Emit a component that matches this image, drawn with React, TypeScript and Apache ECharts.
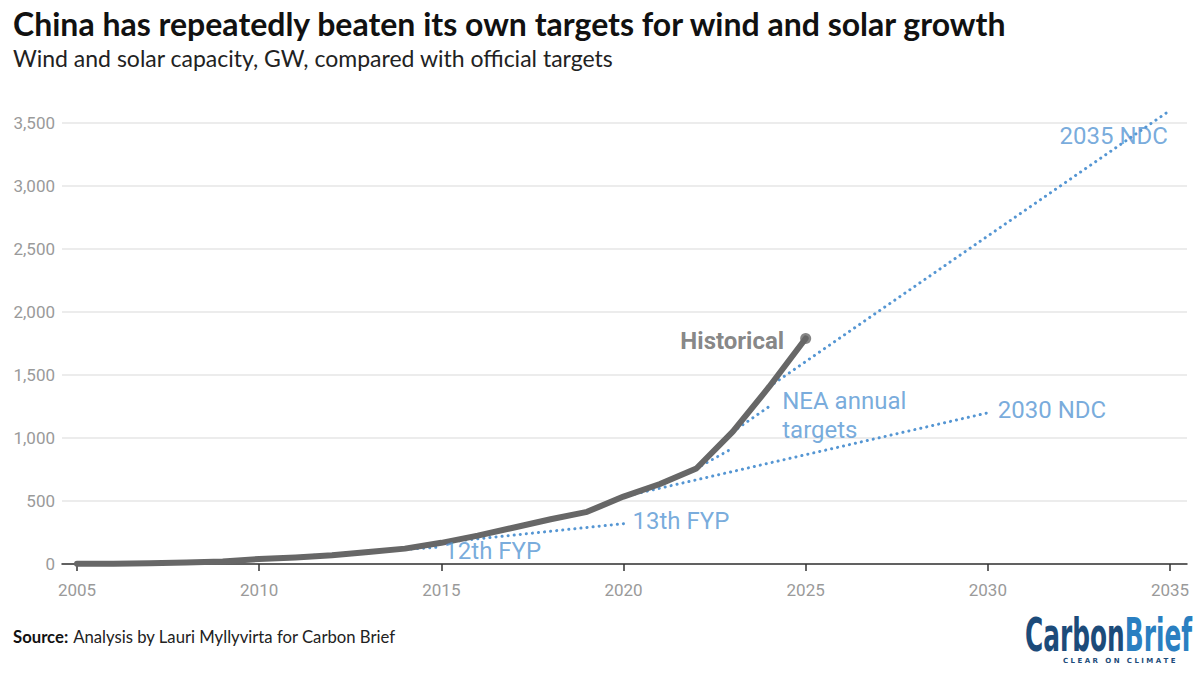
import React, { useEffect, useRef } from "react";
import * as echarts from "echarts";

const years = [2005, 2006, 2007, 2008, 2009, 2010, 2011, 2012, 2013, 2014, 2015, 2016, 2017, 2018, 2019, 2020, 2021, 2022, 2023, 2024, 2025];
const historical = [1.3, 2.7, 6, 12, 20, 40, 52, 70, 95, 122, 168, 225, 290, 355, 414, 535, 635, 758, 1050, 1407, 1790];

const fyp12 = [[2010, 40], [2015, 135]];
const fyp13 = [[2015, 170], [2020, 320]];
const ndc2030 = [[2020, 535], [2030, 1200]];
const nea2023 = [[2022, 758], [2023, 920]];
const nea2024 = [[2023, 1050], [2024, 1250]];
const ndc2035 = [[2024, 1407], [2035, 3600]];

const yTicks = { min: 0, max: 3500, interval: 500 };
const xTicks = { min: 2005, max: 2035, interval: 5 };

const BLUE = "#5596d3";
const GRAY = "#676767";
const LABEL_FONT = "Roboto, 'Noto Sans', sans-serif";
const TEXT_FONT = "Lato, 'Noto Sans', sans-serif";
const LOGO_FONT = "'Liberation Sans Narrow', 'DejaVu Sans Condensed', sans-serif";

function dotted(name: string, data: number[][]) {
  return {
    name,
    type: "line",
    xAxisIndex: 1,
    yAxisIndex: 1,
    data,
    symbol: "none",
    z: 2,
    lineStyle: { color: BLUE, width: 3, type: [0.1, 6], cap: "round" },
  };
}

function last<T>(a: T[]): T {
  return a[a.length - 1];
}

export default function App() {
  const ref = useRef<HTMLDivElement>(null);
  useEffect(() => {
    if (!ref.current) return;
    const chart = echarts.init(ref.current, null, { renderer: "svg" });
    const histPoints = years.map((y, i) => [y, historical[i]]);
    const blueLabel = { color: BLUE, fontSize: 24, fontFamily: LABEL_FONT };
    chart.setOption({
      animation: false,
      backgroundColor: "#ffffff",
      title: [
        {
          text: "China has repeatedly beaten its own targets for wind and solar growth",
          left: 8,
          top: 2,
          textStyle: { fontSize: 32, fontWeight: "bold", fontFamily: TEXT_FONT, color: "#111" },
        },
        {
          text: "Wind and solar capacity, GW, compared with official targets",
          left: 8,
          top: 41,
          textStyle: { fontSize: 23, fontWeight: "normal", fontFamily: TEXT_FONT, color: "#222" },
        },
        {
          text: "{b|Source:} {n|Analysis by Lauri Myllyvirta for Carbon Brief}",
          left: 8,
          top: 623,
          textStyle: {
            rich: {
              b: { fontSize: 16.7, fontWeight: "bold", fontFamily: TEXT_FONT, color: "#111" },
              n: { fontSize: 16.7, fontWeight: "normal", fontFamily: TEXT_FONT, color: "#222" },
            },
          },
        },
      ],
      grid: [
        { left: 62, right: 13, top: 123, bottom: 109 },
        { left: 77, right: 30, top: 123, bottom: 109 },
      ],
      xAxis: [
        {
          gridIndex: 0,
          type: "value",
          min: 0,
          max: 1,
          axisLine: { show: true, lineStyle: { color: "#333", width: 1.5 } },
          axisTick: { show: false },
          axisLabel: { show: false },
          splitLine: { show: false },
        },
        {
          gridIndex: 1,
          type: "value",
          min: xTicks.min,
          max: xTicks.max,
          interval: xTicks.interval,
          axisLine: { show: false },
          axisTick: { show: true, length: 7, lineStyle: { color: "#333", width: 1.5 } },
          axisLabel: { color: "#9a9a9a", fontSize: 17, fontFamily: LABEL_FONT, margin: 17, formatter: (v: number) => String(v) },
          splitLine: { show: false },
        },
      ],
      yAxis: [
        {
          gridIndex: 0,
          type: "value",
          min: yTicks.min,
          max: yTicks.max,
          interval: yTicks.interval,
          axisLine: { show: false },
          axisTick: { show: false },
          axisLabel: {
            color: "#9a9a9a",
            fontSize: 17,
            fontFamily: LABEL_FONT,
            margin: 7,
            formatter: (v: number) => v.toLocaleString("en-US"),
          },
          splitLine: { lineStyle: { color: "#e6e6e6", width: 1.5 } },
        },
        {
          gridIndex: 1,
          type: "value",
          min: yTicks.min,
          max: yTicks.max,
          interval: yTicks.interval,
          show: false,
          splitLine: { show: false },
        },
      ],
      series: [
        dotted("12th FYP", fyp12),
        dotted("13th FYP", fyp13),
        dotted("2030 NDC", ndc2030),
        dotted("NEA 2023", nea2023),
        dotted("NEA 2024", nea2024),
        { ...dotted("2035 NDC", ndc2035), clip: false },
        {
          name: "Historical",
          type: "line",
          xAxisIndex: 1,
          yAxisIndex: 1,
          data: histPoints,
          symbol: "none",
          z: 5,
          lineStyle: { color: GRAY, width: 6, join: "round", cap: "round" },
        },
        {
          name: "Historical end",
          type: "scatter",
          xAxisIndex: 1,
          yAxisIndex: 1,
          z: 6,
          symbol: "circle",
          symbolSize: 11,
          itemStyle: { color: GRAY },
          data: [last(histPoints)],
          label: {
            show: true,
            position: "left",
            distance: 16,
            offset: [0, 3],
            formatter: "Historical",
            color: GRAY,
            fontSize: 24,
            fontWeight: "bold",
            fontFamily: LABEL_FONT,
          },
        },
        {
          name: "Labels",
          type: "scatter",
          xAxisIndex: 1,
          yAxisIndex: 1,
          z: 7,
          symbolSize: 0,
          itemStyle: { color: "rgba(0,0,0,0)" },
          silent: true,
          clip: false,
          data: [
            { value: last(fyp12), label: { ...blueLabel, show: true, position: "right", distance: 3, offset: [0, 4], formatter: "12th FYP" } },
            { value: last(fyp13), label: { ...blueLabel, show: true, position: "right", distance: 9, offset: [0, -3], formatter: "13th FYP" } },
            { value: last(ndc2030), label: { ...blueLabel, show: true, position: "right", distance: 10, offset: [0, -3], formatter: "2030 NDC" } },
            {
              value: last(nea2024),
              label: { ...blueLabel, show: true, position: "right", distance: 13, offset: [0, 9], lineHeight: 29, formatter: "NEA annual\ntargets" },
            },
            { value: last(ndc2035), label: { ...blueLabel, show: true, position: "left", distance: 2, offset: [0, 26], formatter: "2035 NDC" } },
          ],
        },
      ],
      graphic: [
        {
          type: "text",
          x: 1025,
          y: 612,
          scaleX: 0.6,
          style: {
            text: "{a|Carbon}{b|Brief}",
            rich: {
              a: { fill: "#1c4b7a", fontSize: 46, fontWeight: "bold", fontFamily: LOGO_FONT },
              b: { fill: "#2a7fc1", fontSize: 46, fontWeight: "bold", fontFamily: LOGO_FONT },
            },
          },
        },
        {
          type: "text",
          x: 1063,
          y: 657,
          style: {
            text: "C L E A R   O N   C L I M A T E",
            fill: "#1c4b7a",
            fontSize: 7,
            fontWeight: "bold",
            fontFamily: "'DejaVu Sans', sans-serif",
          },
        },
      ],
    });
    return () => chart.dispose();
  }, []);
  return <div ref={ref} style={{ position: "absolute", left: 0, top: 0, width: 1200, height: 673 }} />;
}
